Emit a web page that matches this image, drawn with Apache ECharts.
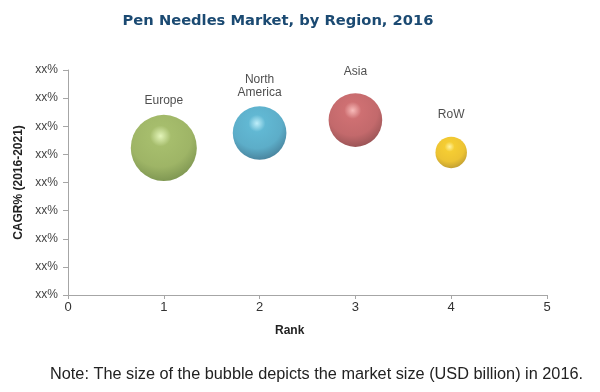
<!DOCTYPE html>
<html><head><meta charset="utf-8">
<script src="https://cdn.jsdelivr.net/npm/echarts@6/dist/echarts.min.js"></script>
<style>html,body{margin:0;padding:0;background:#fff}#c{width:600px;height:392px}</style>
</head><body><div id="c"></div>
<script>
var regions = ["Europe", "North\nAmerica", "Asia", "RoW"];
var ranks = [1, 2, 3, 4];
var cagr = [5.23, 5.76, 6.22, 5.07];
var marketSize = [4.4, 2.9, 2.9, 1.0];
var yTickLabels = ["xx%","xx%","xx%","xx%","xx%","xx%","xx%","xx%","xx%"];
var xTickLabels = ["0","1","2","3","4","5"];
var palettes = [
  ["#dcf2a8","#90ad48","#86a240","#5a7824"],
  ["#aeeaf8","#3aa6c8","#3499bb","#185e7e"],
  ["#f6aaa8","#c24c4f","#b44447","#7a2628"],
  ["#fff08a","#f2c000","#e8b400","#ac8200"]
];
var labelGaps = [8, 7, 15, 15];
var chart = echarts.init(document.getElementById('c'), null, {renderer:'canvas'});
var data = regions.map(function(r,i){
  var p = palettes[i];
  return {
    name: r,
    value: [ranks[i], cagr[i], marketSize[i]],
    label: {distance: labelGaps[i]},
    itemStyle: {
      color: {type:'radial', x:0.45, y:0.32, r:0.72,
        colorStops:[{offset:0,color:p[0]},{offset:0.22,color:p[1]},{offset:0.65,color:p[2]},{offset:1,color:p[3]}]}
    }
  };
});
chart.setOption({
  animation:false,
  title:{text:'Pen Needles Market, by Region, 2016', left:273, top:9, textAlign:'center',
    textStyle:{fontFamily:'DejaVu Sans', fontWeight:'bold', fontSize:14.7, color:'#1b4a72'}},
  grid:{left:68, right:53, top:70, bottom:97},
  xAxis:{type:'value', min:0, max:5, interval:1,
    axisLine:{lineStyle:{color:'#a6a6a6'}},
    axisTick:{show:true, length:4, lineStyle:{color:'#a6a6a6'}},
    splitLine:{show:false},
    axisLabel:{margin:6, fontFamily:'Liberation Sans', fontSize:13, color:'#333',
      formatter:function(v){return xTickLabels[Math.round(v)];}}
  },
  yAxis:{type:'value', min:0, max:8, interval:1,
    axisLine:{show:true, lineStyle:{color:'#a6a6a6'}},
    axisTick:{show:true, length:5, lineStyle:{color:'#a6a6a6'}},
    splitLine:{show:false},
    axisLabel:{margin:10, fontFamily:'Liberation Sans', fontSize:12, color:'#444',
      formatter:function(v){return yTickLabels[Math.round(v)];}},
    name:'CAGR% (2016-2021)', nameLocation:'middle', nameGap:43, nameRotate:90,
    nameTextStyle:{fontFamily:'Liberation Sans', fontWeight:'bold', fontSize:12, color:'#222'}
  },
  series:[{
    type:'scatter',
    data:data,
    symbolSize:function(v){return 31.5*Math.sqrt(v[2]);},
    label:{show:true, position:'top', formatter:function(p){return p.name;},
      fontFamily:'Liberation Sans', fontSize:12, color:'#222', lineHeight:13}
  }],
  graphic:[
    {type:'text', left:275, top:325, style:{text:'Rank', font:'bold 12px "Liberation Sans"', fill:'#222'}},
    {type:'text', left:50, top:367, style:{text:'Note: The size of the bubble depicts the market size (USD billion) in 2016.', font:'16.3px "Liberation Sans"', fill:'#222'}}
  ]
});
</script></body></html>
